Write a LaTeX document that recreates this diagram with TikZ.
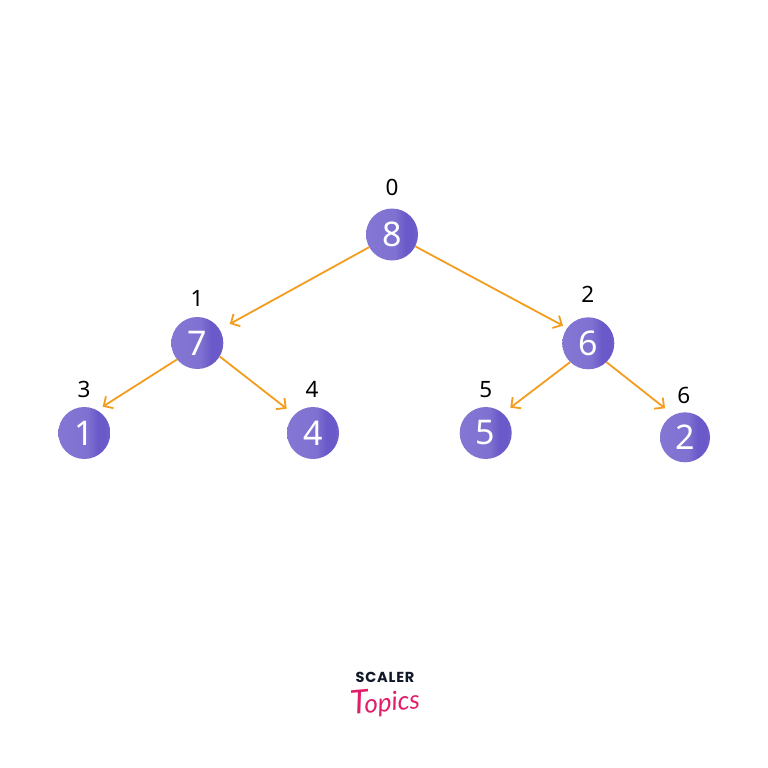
\documentclass[tikz,border=0pt]{standalone}
\usepackage{fontspec}
\setmainfont{Noto Sans}
\newfontfamily\numfont{Noto Sans}
\newfontfamily\idxfont{Noto Sans}
\newfontfamily\logofont{Poppins}
\newfontfamily\pinkfont{Lato}
\usetikzlibrary{arrows.meta}
\definecolor{edgeor}{HTML}{F39C1E}
\definecolor{nodeA}{HTML}{8476D3}
\definecolor{nodeL}{HTML}{7F71D1}
\definecolor{nodeR}{HTML}{6A59C8}
\definecolor{nodeE}{HTML}{705FCB}
\definecolor{logoink}{HTML}{111827}
\definecolor{logopink}{HTML}{E01E6A}
\pgfdeclarehorizontalshading{ballshade}{100bp}{color(0bp)=(nodeA); color(25bp)=(nodeA); color(53bp)=(nodeL); color(63bp)=(nodeR); color(70bp)=(nodeR); color(75bp)=(nodeE); color(100bp)=(nodeE)}
\tikzset{
  ball/.style={circle,minimum size=#1,inner sep=0pt,shading=ballshade,text=white,font=\fontsize{34}{34}\numfont},
  ball/.default=52pt,
  idx/.style={text=black,font=\fontsize{22.5}{22.5}\idxfont\bfseries,inner sep=0pt},
  link/.style={draw=edgeor,line width=1.8pt,-{Straight Barb[length=7pt,width=14pt,line width=1.8pt]}}
}
\begin{document}
\begin{tikzpicture}[x=1pt,y=-1pt]
\useasboundingbox (0,0) rectangle (768,768);
\fill[white] (0,0) rectangle (768,768);
\node[ball] (n8) at (392,234.5) {8};
\node[ball] (n7) at (197.3,343) {7};
\node[ball] (n6) at (588.3,343.3) {6};
\node[ball] (n1) at (84.3,433) {1};
\node[ball] (n4) at (313,433) {4};
\node[ball] (n5) at (485.7,433) {5};
\node[ball=50pt] (n2) at (685,437.3) {2};
\node[idx] (i0) at (392,187) {0};
\node[idx] (i1) at (197,298) {1};
\node[idx] (i2) at (587.7,294.3) {2};
\node[idx] (i3) at (84,389.5) {3};
\node[idx] (i4) at (312,389.5) {4};
\node[idx] (i5) at (485.7,389.7) {5};
\node[idx] (i6) at (683.7,395) {6};
\coordinate (e7) at (229.7,324);
\coordinate (e6) at (563,325.7);
\coordinate (e1) at (102.7,406.7);
\coordinate (e4) at (286.7,408.7);
\coordinate (e5) at (510.3,407.7);
\coordinate (e2) at (665,408.3);
\draw[link] (n8.209.2) -- (e7);
\draw[link] (n8.-27.4) -- (e6);
\draw[link] (n7.219.5) -- (e1);
\draw[link] (n7.-31.1) -- (e4);
\draw[link] (n6.226.1) -- (e5);
\draw[link] (n6.-46) -- (e2);
\node[text=logoink,font=\fontsize{14.5}{14.5}\logofont\bfseries,inner sep=0pt] (lg1) at (385,677) {S\kern0.8pt C\kern0.8pt A\kern0.8pt L\kern0.8pt E\kern0.8pt R};
\node[text=logopink,font=\fontsize{26}{26}\pinkfont\itshape,inner sep=0pt,rotate=5] (lg2) at (385,702) {{\fontsize{33}{33}\selectfont T}\kern-4pt opics};
\end{tikzpicture}
\end{document}
